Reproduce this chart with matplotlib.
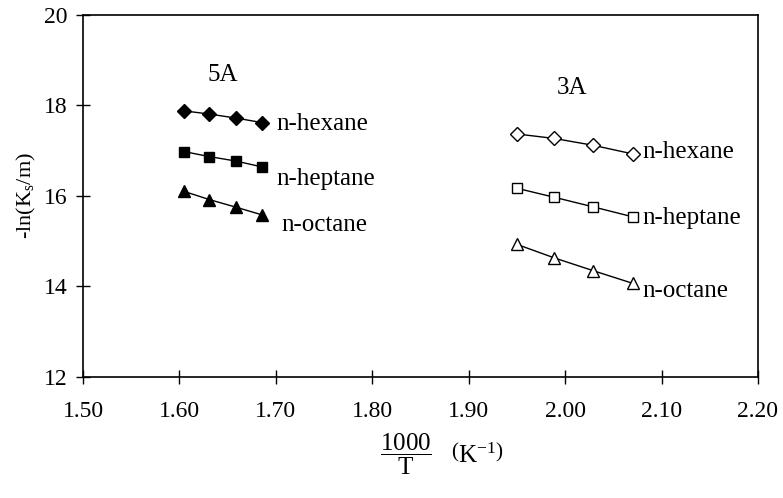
import matplotlib.pyplot as plt

plt.rcParams['font.family'] = 'Liberation Serif'
plt.rcParams['mathtext.fontset'] = 'custom'
plt.rcParams['mathtext.rm'] = 'Liberation Serif'
plt.rcParams['mathtext.it'] = 'Liberation Serif:italic'

# 5A zeolite, 1000/T
x_5a = [1.605, 1.631, 1.659, 1.686]
hexane_5a = [17.88, 17.81, 17.72, 17.62]
heptane_5a = [16.98, 16.87, 16.77, 16.64]
octane_5a = [16.10, 15.92, 15.75, 15.58]

# 3A zeolite
x_3a = [1.950, 1.989, 2.029, 2.070]
hexane_3a = [17.37, 17.27, 17.12, 16.93]
heptane_3a = [16.17, 15.97, 15.76, 15.54]
octane_3a = [14.93, 14.63, 14.35, 14.07]

fig = plt.figure(figsize=(7.83, 4.98), dpi=100)
ax = fig.add_axes([0.106, 0.243, 0.862, 0.727])

ax.plot(x_5a, hexane_5a, '-D', color='black', lw=1, ms=7.5)
ax.plot(x_5a, heptane_5a, '-s', color='black', lw=1, ms=6.5)
ax.plot(x_5a, octane_5a, '-^', color='black', lw=1, ms=9)

ax.plot(x_3a, hexane_3a, '-D', color='black', lw=1, ms=7, mfc='white', mew=1)
ax.plot(x_3a, heptane_3a, '-s', color='black', lw=1, ms=7, mfc='white', mew=1)
ax.plot(x_3a, octane_3a, '-^', color='black', lw=1, ms=8.5, mfc='white', mew=1)

fs = 18
ax.text(1.645, 18.67, '5A', fontsize=fs, ha='center', va='center')
ax.text(1.701, 17.6, 'n-hexane', fontsize=fs, va='center')
ax.text(1.701, 16.38, 'n-heptane', fontsize=fs, va='center')
ax.text(1.706, 15.36, 'n-octane', fontsize=fs, va='center')

ax.text(2.007, 18.39, '3A', fontsize=fs, ha='center', va='center')
ax.text(2.080, 16.98, 'n-hexane', fontsize=fs, va='center')
ax.text(2.080, 15.52, 'n-heptane', fontsize=fs, va='center')
ax.text(2.080, 13.9, 'n-octane', fontsize=fs, va='center')

ax.set_xlim(1.5, 2.2)
ax.set_ylim(12, 20)
ax.set_xticks([1.5, 1.6, 1.7, 1.8, 1.9, 2.0, 2.1, 2.2])
ax.set_xticklabels(['1.50', '1.60', '1.70', '1.80', '1.90', '2.00', '2.10', '2.20'])
ax.set_yticks([12, 14, 16, 18, 20])
ax.tick_params(direction='inout', length=10, width=1, labelsize=17)
ax.tick_params(axis='x', pad=12)
ax.tick_params(axis='y', pad=6)
for s in ax.spines.values():
    s.set_linewidth(1.2)

ax.set_ylabel(r'-ln(K$_{\mathrm{s}}$/m)', fontsize=16, labelpad=4)
ax.set_xlabel(r'$\dfrac{1000}{\mathrm{T}}\quad\left(\mathrm{K}^{-1}\right)$', fontsize=18)
ax.xaxis.set_label_coords(0.532, -0.15)

fig.savefig('out.png', dpi=100)
